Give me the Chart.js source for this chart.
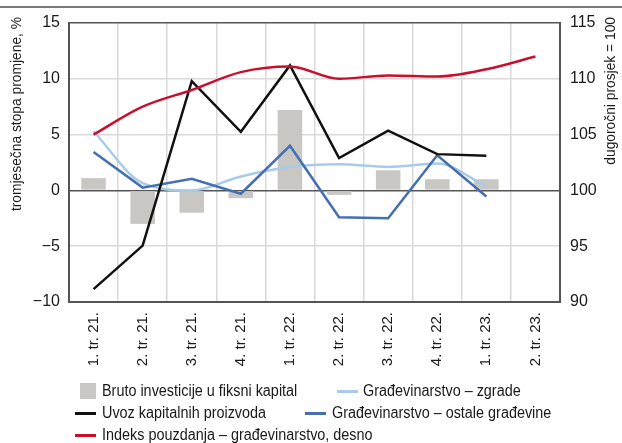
<!DOCTYPE html>
<html>
<head>
<meta charset="utf-8">
<script src="https://cdn.jsdelivr.net/npm/chart.js@4"></script>
<style>
  body { margin: 0; background: #fff; }
  #wrap { position: relative; width: 622px; height: 443px; }
  #topLine { position: absolute; left: 0; top: 6px; width: 622px; height: 2px; background: #7a7a7a; }
  .leg { position: absolute; font-family: 'Liberation Sans', Arial, sans-serif; font-size: 16px; color: #1a1a1a; white-space: nowrap; line-height: 18px; transform: scaleX(0.9); transform-origin: left center; }
  .sw { position: absolute; }
</style>
</head>
<body>
<div id="wrap">
  <div id="topLine"></div>
  <canvas id="chart"></canvas>
  <div id="legend"></div>
</div>
<script>
// podaci
const kvartali = ['1. tr. 21.', '2. tr. 21.', '3. tr. 21.', '4. tr. 21.', '1. tr. 22.', '2. tr. 22.', '3. tr. 22.', '4. tr. 22.', '1. tr. 23.', '2. tr. 23.'];
const brutoInvesticije = [1.1, -3.0, -2.0, -0.7, 7.2, -0.4, 1.8, 1.0, 1.0, null];
const uvozKapitalnih = [-8.85, -4.95, 9.8, 5.25, 11.2, 2.9, 5.35, 3.25, 3.1, null];
const gradZgrade = [5.3, 0.65, 0.0, 1.25, 2.1, 2.35, 2.1, 2.4, 0.35, null];
const gradOstale = [3.45, 0.25, 1.05, -0.3, 4.0, -2.4, -2.5, 3.15, -0.55, null];
const indeksPouzdanja = [105.0, 107.5, 109.0, 110.6, 111.1, 110.0, 110.3, 110.2, 110.85, 112.0];
const lijeviTicks = [-10, -5, 0, 5, 10, 15];
const desniTicks = [90, 95, 100, 105, 110, 115];

const FONT = "'Liberation Sans', Arial, sans-serif";
const AXIS = '#555555';
const GRID = '#d9d9d9';

// naslovi osi, oba citaju odozdo prema gore i zavrsavaju pri vrhu
const nasloviOsi = {
    id: 'nasloviOsi',
    afterDraw(chart) {
        const c = chart.ctx;
        c.save();
        c.font = '15px ' + FONT;
        c.fillStyle = '#1a1a1a';
        c.textAlign = 'right';
        c.textBaseline = 'middle';
        [[17, 'tromjesečna stopa promjene, %'], [611, 'dugoročni prosjek = 100']].forEach(([x, txt]) => {
            c.save();
            c.translate(x, 17);
            c.rotate(-Math.PI / 2);
            c.scale(0.92, 1);
            c.fillText(txt, 0, 0);
            c.restore();
        });
        c.restore();
    }
};

const ctx = document.getElementById('chart').getContext('2d');

new Chart(ctx, {
    data: {
        labels: kvartali,
        datasets: [
            {
                type: 'line', label: 'Indeks pouzdanja – građevinarstvo, desno',
                data: indeksPouzdanja, yAxisID: 'y2',
                borderColor: '#c8102e', borderWidth: 2.5, pointRadius: 0,
                cubicInterpolationMode: 'monotone', order: 1
            },
            {
                type: 'line', label: 'Uvoz kapitalnih proizvoda',
                data: uvozKapitalnih, yAxisID: 'y',
                borderColor: '#111111', borderWidth: 2.5, pointRadius: 0, tension: 0, order: 2
            },
            {
                type: 'line', label: 'Građevinarstvo – ostale građevine',
                data: gradOstale, yAxisID: 'y',
                borderColor: '#4470b0', borderWidth: 2.5, pointRadius: 0, tension: 0, order: 3
            },
            {
                type: 'line', label: 'Građevinarstvo – zgrade',
                data: gradZgrade, yAxisID: 'y',
                borderColor: '#a9cbe9', borderWidth: 2.5, pointRadius: 0,
                cubicInterpolationMode: 'monotone', order: 4
            },
            {
                type: 'bar', label: 'Bruto investicije u fiksni kapital',
                data: brutoInvesticije, yAxisID: 'y',
                backgroundColor: '#c9c7c3', barPercentage: 1, categoryPercentage: 0.5, order: 5
            }
        ]
    },
    plugins: [nasloviOsi],
    options: {
        responsive: true,
        maintainAspectRatio: false,
        animation: false,
        layout: { padding: { top: 23, left: 0, right: 0, bottom: 0 } },
        plugins: { legend: { display: false }, tooltip: { enabled: false } },
        scales: {
            x: {
                offset: true,
                grid: { offset: true, color: GRID, lineWidth: 1.5, drawTicks: false },
                border: { color: AXIS, width: 2 },
                ticks: { color: '#1a1a1a', font: { family: FONT, size: 15 }, minRotation: 90, maxRotation: 90, padding: 10, autoSkip: false },
                afterFit: s => { s.height = 141; }
            },
            y: {
                position: 'left', min: -10, max: 15,
                afterBuildTicks: s => { s.ticks = lijeviTicks.map(v => ({ value: v })); },
                grid: {
                    drawTicks: false, lineWidth: 1.5,
                    color: c => (c.tick.value === 0 || c.tick.value === 15) ? AXIS : GRID
                },
                border: { color: AXIS, width: 2 },
                ticks: { color: '#1a1a1a', font: { family: FONT, size: 16 }, padding: 9, callback: v => v < 0 ? '\u2212' + Math.abs(v) : v },
                afterFit: s => { s.width = 69; }
            },
            y2: {
                position: 'right', min: 90, max: 115,
                afterBuildTicks: s => { s.ticks = desniTicks.map(v => ({ value: v })); },
                grid: { display: false, drawTicks: false },
                border: { color: AXIS, width: 2 },
                ticks: { color: '#1a1a1a', font: { family: FONT, size: 16 }, padding: 10 },
                afterFit: s => { s.width = 62; }
            }
        }
    }
});

// legenda
const legendStavke = [
    { text: 'Bruto investicije u fiksni kapital', kind: 'box', color: '#c9c7c3', x: 80, tx: 102, y: 391 },
    { text: 'Građevinarstvo – zgrade', kind: 'line', color: '#a9cbe9', x: 337, tx: 363, y: 391 },
    { text: 'Uvoz kapitalnih proizvoda', kind: 'line', color: '#111111', x: 75, tx: 102, y: 413 },
    { text: 'Građevinarstvo – ostale građevine', kind: 'line', color: '#4470b0', x: 305, tx: 332, y: 413 },
    { text: 'Indeks pouzdanja – građevinarstvo, desno', kind: 'line', color: '#c8102e', x: 75, tx: 102, y: 435 }
];
const legendEl = document.getElementById('legend');
legendStavke.forEach(s => {
    const sw = document.createElement('div');
    sw.className = 'sw';
    if (s.kind === 'box') {
        sw.style.cssText = `left:${s.x}px;top:${s.y - 8}px;width:16px;height:16px;background:${s.color}`;
    } else {
        sw.style.cssText = `left:${s.x}px;top:${s.y - 1}px;width:21px;height:3px;background:${s.color}`;
    }
    legendEl.appendChild(sw);
    const t = document.createElement('div');
    t.className = 'leg';
    t.style.left = s.tx + 'px';
    t.style.top = (s.y - 9) + 'px';
    t.textContent = s.text;
    legendEl.appendChild(t);
});
</script>
</body>
</html>
